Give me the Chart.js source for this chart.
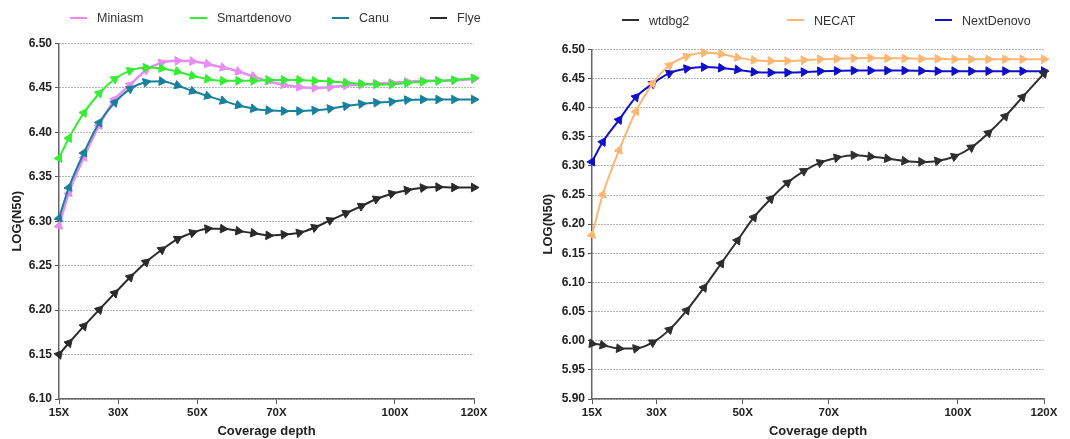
<!DOCTYPE html>
<html>
<head>
<meta charset="utf-8">
<script src="https://cdn.jsdelivr.net/npm/chart.js@4.4.1/dist/chart.umd.min.js"></script>
<style>
    body { margin: 0; background: #fff; width: 1070px; height: 439px; overflow: hidden; position: relative;
           font-family: Arial, "Liberation Sans", sans-serif; }
    canvas { position: absolute; top: 0; }
    #leftChart { left: 0; }
    #rightChart { left: 535px; }
    .leg { position: absolute; font-size: 12.5px; color: #333; white-space: nowrap; line-height: 14px; }
    .leg i { display: inline-block; width: 17px; height: 2px; vertical-align: middle; margin-right: 10px; margin-top: -2px; }
</style>
</head>
<body>
<canvas id="leftChart" width="535" height="439"></canvas>
<canvas id="rightChart" width="535" height="439"></canvas>
<div id="legends"></div>

<script>
// Coverage depth of every sampled point (X)
const depth = [15, 17.5, 21.3, 25.2, 29.1, 33, 37, 41, 45, 48.8, 52.6, 56.5, 60.4, 64.2,
               68, 71.9, 75.8, 79.7, 83.6, 87.6, 91.5, 95.3, 99.2, 103.1, 107.1, 111, 115, 120];

// Left panel
const miniasm = [6.295, 6.332, 6.372, 6.408, 6.437, 6.4535, 6.470, 6.4785, 6.4805, 6.480, 6.477, 6.473, 6.4685, 6.463,
                 6.4575, 6.4535, 6.451, 6.450, 6.4508, 6.4528, 6.4535, 6.455, 6.4557, 6.457, 6.458, 6.458, 6.4585, 6.460];
const smartdenovo = [6.371, 6.3935, 6.422, 6.444, 6.460, 6.4695, 6.473, 6.472, 6.4685, 6.4636, 6.460, 6.458, 6.458, 6.458,
                     6.459, 6.459, 6.459, 6.458, 6.4573, 6.456, 6.4547, 6.454, 6.454, 6.4555, 6.457, 6.458, 6.459, 6.461];
const canu = [6.3035, 6.338, 6.377, 6.411, 6.4335, 6.449, 6.4565, 6.4575, 6.4528, 6.4465, 6.441, 6.4355, 6.4305, 6.4267,
              6.4248, 6.424, 6.424, 6.4248, 6.4267, 6.4297, 6.432, 6.4335, 6.4345, 6.4365, 6.437, 6.437, 6.437, 6.437];
const flye = [6.150, 6.163, 6.182, 6.2005, 6.219, 6.237, 6.254, 6.268, 6.280, 6.287, 6.2915, 6.2915, 6.289, 6.2867,
              6.284, 6.285, 6.287, 6.293, 6.301, 6.309, 6.317, 6.325, 6.331, 6.335, 6.3376, 6.3384, 6.338, 6.338];

// Right panel
const wtdbg2 = [5.995, 5.9924, 5.9867, 5.9867, 5.997, 6.019, 6.052, 6.091, 6.1325, 6.172, 6.2116, 6.2433, 6.271, 6.291,
                6.3055, 6.314, 6.3183, 6.316, 6.3125, 6.3085, 6.3068, 6.3085, 6.316, 6.3315, 6.3564, 6.385, 6.418, 6.4585];
const necat = [6.1817, 6.251, 6.327, 6.3933, 6.4412, 6.4725, 6.488, 6.494, 6.4918, 6.486, 6.4814, 6.480, 6.480, 6.4814,
               6.483, 6.4837, 6.4845, 6.485, 6.4845, 6.4845, 6.4837, 6.4837, 6.483, 6.483, 6.483, 6.483, 6.483, 6.483];
const nextDenovo = [6.307, 6.341, 6.379, 6.418, 6.441, 6.459, 6.4668, 6.4696, 6.468, 6.465, 6.461, 6.460, 6.460, 6.461,
                    6.4625, 6.463, 6.4635, 6.4635, 6.4635, 6.4635, 6.463, 6.4625, 6.4625, 6.4625, 6.4625, 6.4625, 6.4625, 6.4625];

// Axis ticks
const xTicks = [15, 30, 50, 70, 100, 120];
const yTicksLeft = [6.10, 6.15, 6.20, 6.25, 6.30, 6.35, 6.40, 6.45, 6.50];
const yTicksRight = [5.90, 5.95, 6.00, 6.05, 6.10, 6.15, 6.20, 6.25, 6.30, 6.35, 6.40, 6.45, 6.50];

Chart.defaults.font.family = 'Arial, "Liberation Sans", sans-serif';
Chart.defaults.color = '#222';

// Rotate each triangle so it points along the curve
function arrowAngle(ctx) {
    if (ctx.type !== 'data') return 0;
    const pts = ctx.dataset.data;
    const i = ctx.dataIndex;
    const a = pts[Math.max(i - 1, 0)];
    const b = pts[Math.min(i + 1, pts.length - 1)];
    const { x: sx, y: sy } = ctx.chart.scales;
    const dx = sx.getPixelForValue(b.x) - sx.getPixelForValue(a.x);
    const dy = sy.getPixelForValue(b.y) - sy.getPixelForValue(a.y);
    return Math.atan2(dy, dx) * 180 / Math.PI + 90;
}

function makeDataset(label, values, color, order, width) {
    return {
        label,
        order,
        data: depth.map((x, i) => ({ x, y: values[i] })),
        borderColor: color,
        backgroundColor: color,
        borderWidth: width || 2,
        cubicInterpolationMode: 'monotone',
        pointStyle: 'triangle',
        pointRadius: 5,
        pointBorderWidth: 1,
        pointRotation: arrowAngle,
        clip: false
    };
}

function makeChart(id, datasets, yTicks, cfg) {
    return new Chart(document.getElementById(id), {
        type: 'line',
        data: { datasets },
        options: {
            responsive: false,
            animation: false,
            devicePixelRatio: 1,
            layout: { padding: { top: cfg.top, right: cfg.right, left: 0, bottom: 0 } },
            plugins: { legend: { display: false }, tooltip: { enabled: false } },
            scales: {
                x: {
                    type: 'linear',
                    min: 15,
                    max: 120,
                    afterBuildTicks: s => { s.ticks = xTicks.map(v => ({ value: v })); },
                    afterFit: s => { s.height = 40; },
                    ticks: {
                        callback: v => v + 'X',
                        font: { size: 11.5, weight: 'bold' },
                        padding: 2,
                        maxRotation: 0,
                        autoSkip: false
                    },
                    grid: { drawOnChartArea: false, drawTicks: true, tickLength: 5, color: '#555', tickColor: '#555' },
                    border: { color: '#666', width: 1.5 },
                    title: {
                        display: true,
                        text: 'Coverage depth',
                        font: { size: 13, weight: 'bold' },
                        padding: { top: 0, bottom: 0 }
                    }
                },
                y: {
                    min: yTicks[0],
                    max: yTicks[yTicks.length - 1],
                    afterBuildTicks: s => { s.ticks = yTicks.map(v => ({ value: v })); },
                    afterFit: s => { s.width = cfg.yWidth; },
                    ticks: {
                        callback: v => Number(v).toFixed(2),
                        font: { size: 12, weight: 'bold' },
                        padding: 3,
                        autoSkip: false
                    },
                    grid: { color: '#6a6a6a', lineWidth: 1, tickLength: 4, tickColor: '#555' },
                    border: { color: '#666', width: 1.5, dash: [1, 2] },
                    title: {
                        display: true,
                        text: 'LOG(N50)',
                        font: { size: 13, weight: 'bold' },
                        padding: { top: cfg.titlePad, bottom: 0 }
                    }
                }
            }
        }
    });
}

makeChart('leftChart', [
    makeDataset('Miniasm', miniasm, '#e68cf2', 4, 2.5),
    makeDataset('Smartdenovo', smartdenovo, '#33ee33', 3),
    makeDataset('Canu', canu, '#17809c', 2),
    makeDataset('Flye', flye, '#2a2a2a', 1)
], yTicksLeft, { top: 43.5, right: 61, yWidth: 59, titlePad: 10 });

makeChart('rightChart', [
    makeDataset('wtdbg2', wtdbg2, '#2e2e2e', 1),
    makeDataset('NECAT', necat, '#ffb672', 2),
    makeDataset('NextDenovo', nextDenovo, '#1010cc', 3)
], yTicksRight, { top: 49.3, right: 26, yWidth: 57, titlePad: 6 });

// Legends above each panel
const legendItems = [
    { label: 'Miniasm', color: '#e68cf2', left: 70, top: 11 },
    { label: 'Smartdenovo', color: '#33ee33', left: 190, top: 11 },
    { label: 'Canu', color: '#17809c', left: 332, top: 11 },
    { label: 'Flye', color: '#2a2a2a', left: 430, top: 11 },
    { label: 'wtdbg2', color: '#2e2e2e', left: 622, top: 13.5 },
    { label: 'NECAT', color: '#ffb672', left: 787, top: 13.5 },
    { label: 'NextDenovo', color: '#1010cc', left: 935, top: 13.5 }
];
document.getElementById('legends').innerHTML = legendItems.map(item =>
    `<div class="leg" style="left:${item.left}px;top:${item.top}px"><i style="background:${item.color}"></i>${item.label}</div>`
).join('');
</script>
</body>
</html>
